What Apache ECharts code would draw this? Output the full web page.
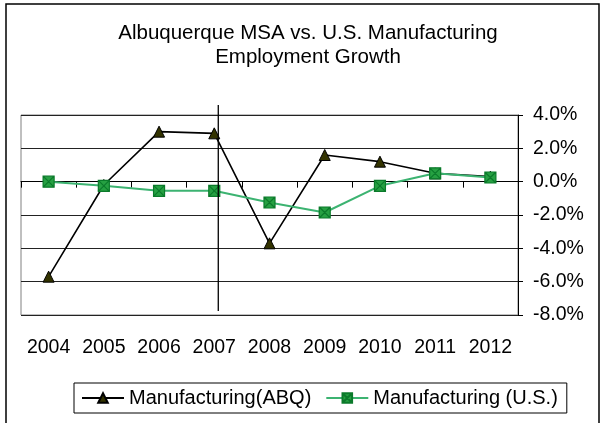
<!DOCTYPE html>
<html>
<head>
<meta charset="utf-8">
<script src="https://cdn.jsdelivr.net/npm/echarts@6/dist/echarts.min.js"></script>
<style>
  html, body { margin: 0; padding: 0; background: #fff; }
  #chart { width: 600px; height: 423px; }
</style>
</head>
<body>
<div id="chart"></div>
<script>
// Annual manufacturing employment growth, percent
const years = ['2004', '2005', '2006', '2007', '2008', '2009', '2010', '2011', '2012'];
const abqGrowth = [-5.7, -0.2, 3.0, 2.9, -3.7, 1.6, 1.2, 0.5, 0.3];
const usGrowth = [0.0, -0.25, -0.55, -0.55, -1.25, -1.85, -0.25, 0.5, 0.25];
const yTicks = { min: -8, max: 4, step: 2 };

const FONT = 'Liberation Sans, Arial, sans-serif';
const chart = echarts.init(document.getElementById('chart'));

// Square with a cross through it
const crossSquare = 'path://M0,0L10,0L10,10L0,10Z M0,0L10,10 M10,0L0,10';

chart.setOption({
  animation: false,
  backgroundColor: '#fff',
  title: {
    text: 'Albuquerque MSA vs. U.S. Manufacturing\nEmployment Growth',
    left: 303,
    top: 16,
    textAlign: 'center',
    textStyle: { fontFamily: FONT, fontSize: 20.5, fontWeight: 'normal', color: '#000', lineHeight: 24 }
  },
  grid: {
    left: 21, right: 82, top: 115, bottom: 108,
    show: true, borderColor: '#808080', borderWidth: 1, backgroundColor: '#fff'
  },
  legend: {
    left: 74, top: 383,
    padding: [5, 9, 5, 7],
    borderColor: '#000', borderWidth: 1,
    itemWidth: 42, itemHeight: 12, itemGap: 14,
    textStyle: { fontFamily: FONT, fontSize: 20, color: '#000' },
    data: ['Manufacturing(ABQ)', 'Manufacturing (U.S.)']
  },
  xAxis: {
    type: 'category',
    data: years,
    boundaryGap: true,
    axisLine: { show: true, lineStyle: { color: '#000', width: 1 } },
    axisTick: { show: true, interval: 0, length: 6, lineStyle: { color: '#000' } },
    axisLabel: { interval: 0, hideOverlap: false, fontFamily: FONT, fontSize: 19.5, color: '#000', margin: 23 },
    splitLine: { show: false }
  },
  yAxis: {
    type: 'value',
    position: 'right',
    min: yTicks.min, max: yTicks.max, interval: yTicks.step,
    axisLine: { show: true, lineStyle: { color: '#000', width: 1 } },
    axisTick: { show: true, length: 5, lineStyle: { color: '#000' } },
    axisLabel: {
      fontFamily: FONT, fontSize: 19.5, color: '#000', margin: 15,
      formatter: v => v.toFixed(1) + '%'
    },
    splitLine: { show: true, lineStyle: { color: '#222', width: 1 } }
  },
  series: [
    {
      name: 'Manufacturing(ABQ)',
      type: 'line',
      data: abqGrowth,
      symbol: 'triangle',
      symbolSize: 11,
      z: 2,
      lineStyle: { color: '#000', width: 1.6 },
      itemStyle: { color: '#333300', borderColor: '#000', borderWidth: 1 }
    },
    {
      name: 'Manufacturing (U.S.)',
      type: 'line',
      data: usGrowth,
      symbol: crossSquare,
      symbolSize: 11,
      z: 3,
      lineStyle: { color: '#3cb371', width: 2 },
      itemStyle: { color: '#26a042', borderColor: '#0b7a2b', borderWidth: 1.2 }
    }
  ]
});

// Chart frame and the divider line just after 2007
const at2007 = chart.convertToPixel({ xAxisIndex: 0 }, '2007');
const yTop = chart.convertToPixel({ yAxisIndex: 0 }, yTicks.max);
const yBottom = chart.convertToPixel({ yAxisIndex: 0 }, yTicks.min);
chart.setOption({
  graphic: [
    {
      type: 'rect', silent: true, z: 100,
      shape: { x: 6, y: 4, width: 593, height: 440 },
      style: { fill: null, stroke: '#000', lineWidth: 1.5 }
    },
    {
      type: 'line', silent: true, z: 100,
      shape: { x1: at2007 + 4, y1: yTop - 10, x2: at2007 + 4, y2: yBottom - 4 },
      style: { stroke: '#000', lineWidth: 1.3 }
    }
  ]
});
</script>
</body>
</html>
